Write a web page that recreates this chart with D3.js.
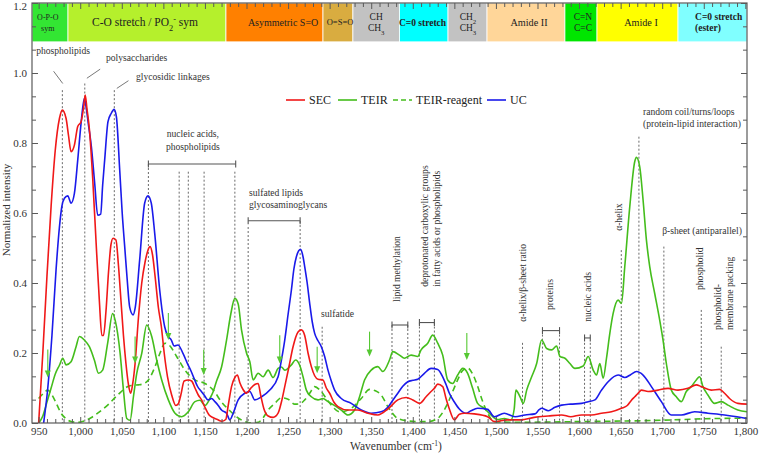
<!DOCTYPE html>
<html>
<head>
<meta charset="utf-8">
<script src="https://cdn.jsdelivr.net/npm/d3@7"></script>
<style>
  body { margin: 0; background: #fff; }
  svg, svg text { font-family: "Liberation Serif", "DejaVu Serif", "Times New Roman", serif; }
</style>
</head>
<body>
<div id="chart"></div>
<script>

// spectra: [wavenumber, normalized intensity]
const secData = [[950,0],[955,0.2],[960,0.42],[965,0.62],[970,0.78],[975,0.87],[978.5,0.894],[983,0.87],[986,0.82],[989,0.775],[991,0.78],[993,0.794],[997,0.847],[1001,0.861],[1004,0.9],[1006,0.937],[1008,0.9],[1011,0.84],[1015,0.7],[1019,0.52],[1023,0.35],[1026,0.25],[1028,0.25],[1031,0.32],[1034,0.43],[1037,0.51],[1039.5,0.528],[1043,0.523],[1046,0.45],[1049,0.35],[1052,0.25],[1055,0.17],[1058,0.11],[1060.7,0.085],[1063,0.11],[1066,0.17],[1070,0.3],[1074,0.4],[1078,0.46],[1081,0.49],[1084,0.504],[1087,0.48],[1090,0.42],[1094,0.33],[1097.6,0.275],[1101,0.2],[1105,0.132],[1110,0.08],[1115,0.05],[1118,0.055],[1121,0.08],[1125,0.12],[1130,0.123],[1134,0.12],[1138,0.1],[1142,0.08],[1146,0.066],[1150,0.045],[1155,0.023],[1160,0.015],[1165,0.01],[1170,0.005],[1175,0.01],[1178,0.05],[1182,0.104],[1186,0.13],[1189,0.137],[1192,0.115],[1196,0.095],[1200,0.085],[1205,0.099],[1210,0.11],[1214,0.113],[1217,0.08],[1221,0.04],[1226,0.02],[1232,0.016],[1238,0.028],[1242,0.06],[1246,0.104],[1251,0.16],[1256,0.218],[1262,0.26],[1266,0.266],[1270,0.25],[1274,0.2],[1278,0.161],[1282,0.135],[1286,0.125],[1292,0.123],[1296,0.1],[1300,0.085],[1305,0.06],[1310,0.047],[1322,0.037],[1334,0.037],[1346,0.028],[1358,0.023],[1370,0.04],[1382,0.066],[1392,0.073],[1400,0.066],[1408,0.056],[1416,0.075],[1422,0.09],[1426,0.099],[1430,0.111],[1436,0.104],[1440,0.07],[1444,0.04],[1450,0.009],[1456,0.025],[1462,0.028],[1474,0.026],[1490,0.018],[1498,0.004],[1514,0.009],[1530,0.009],[1546,0.016],[1563,0.02],[1579,0.023],[1590,0.018],[1603,0.023],[1615,0.023],[1627,0.028],[1639,0.032],[1651,0.042],[1658,0.05],[1663,0.065],[1667,0.075],[1671,0.085],[1675,0.094],[1683,0.09],[1695,0.094],[1707,0.099],[1719,0.094],[1731,0.099],[1741,0.109],[1747,0.104],[1759,0.094],[1769,0.096],[1775,0.085],[1781,0.07],[1791,0.056],[1802,0.054]];

const teirData = [[950,0],[955,0.02],[960,0.06],[965,0.1],[970,0.14],[975,0.165],[979,0.185],[983,0.166],[989,0.175],[995,0.218],[999,0.247],[1005,0.237],[1011,0.218],[1017,0.18],[1022,0.142],[1027,0.151],[1033,0.228],[1039,0.313],[1042,0.294],[1048,0.199],[1052,0.094],[1056,0.013],[1060,0.008],[1064,0.075],[1068,0.142],[1074,0.199],[1080,0.28],[1086,0.247],[1092,0.18],[1098,0.123],[1106,0.066],[1114,0.028],[1122,0.018],[1130,0.032],[1138,0.061],[1144,0.065],[1150,0.05],[1156,0.07],[1160,0.09],[1164,0.12],[1170,0.16],[1176,0.237],[1181,0.31],[1186,0.356],[1190,0.34],[1194,0.266],[1200,0.2],[1204,0.175],[1208,0.123],[1214,0.142],[1220,0.132],[1226,0.151],[1232,0.13],[1238,0.156],[1242,0.16],[1246,0.151],[1254,0.166],[1259,0.18],[1264,0.165],[1268,0.132],[1272,0.094],[1278,0.075],[1286,0.066],[1292,0.07],[1298,0.061],[1308,0.047],[1314,0.037],[1322,0.023],[1330,0.037],[1336,0.075],[1342,0.123],[1350,0.151],[1358,0.161],[1364,0.147],[1372,0.18],[1376,0.204],[1384,0.194],[1390,0.185],[1398,0.194],[1406,0.19],[1410,0.209],[1418,0.228],[1424,0.251],[1430,0.228],[1436,0.194],[1442,0.123],[1448,0.113],[1454,0.137],[1460,0.156],[1466,0.142],[1472,0.099],[1478,0.056],[1486,0.042],[1494,0.023],[1502,0.01],[1510,0.013],[1518,0.009],[1522,0.04],[1524,0.094],[1529,0.075],[1533,0.056],[1537,0.094],[1543,0.132],[1549,0.17],[1555,0.237],[1561,0.213],[1567,0.209],[1573,0.22],[1577,0.19],[1583,0.185],[1589,0.17],[1595,0.156],[1605,0.163],[1611,0.19],[1617,0.151],[1621,0.137],[1625,0.17],[1629,0.128],[1633,0.185],[1637,0.256],[1641,0.313],[1647,0.351],[1651,0.342],[1655,0.447],[1661,0.618],[1667,0.747],[1669,0.759],[1673,0.732],[1677,0.637],[1681,0.523],[1685,0.447],[1691,0.37],[1697,0.294],[1701,0.237],[1705,0.17],[1711,0.094],[1717,0.075],[1723,0.061],[1729,0.09],[1735,0.104],[1741,0.123],[1745,0.132],[1749,0.104],[1755,0.08],[1763,0.056],[1771,0.061],[1779,0.051],[1791,0.037],[1802,0.032]];

const reagentData = [[950,0.07],[956,0.085],[961,0.094],[966,0.08],[970,0.062],[974,0.042],[977,0.028],[983,0.012],[989,0.004],[997,0.002],[1005,0.006],[1013,0.015],[1021,0.028],[1033,0.051],[1045,0.08],[1058,0.105],[1064,0.108],[1070,0.109],[1076,0.112],[1082,0.123],[1090,0.161],[1096,0.2],[1102,0.228],[1108,0.22],[1116,0.19],[1126,0.151],[1138,0.123],[1150,0.113],[1160,0.094],[1170,0.06],[1180,0.035],[1188,0.018],[1196,0.006],[1205,0],[1214,0.002],[1220,0.015],[1226,0.037],[1234,0.056],[1242,0.072],[1250,0.068],[1258,0.054],[1264,0.055],[1270,0.066],[1276,0.085],[1282,0.104],[1288,0.095],[1296,0.07],[1302,0.051],[1312,0.032],[1320,0.035],[1326,0.042],[1338,0.07],[1348,0.096],[1355,0.092],[1362,0.08],[1370,0.047],[1382,0.013],[1394,0.006],[1405,0.004],[1418,0.004],[1430,0.013],[1436,0.03],[1442,0.056],[1448,0.09],[1454,0.123],[1460,0.15],[1466,0.157],[1472,0.14],[1478,0.105],[1484,0.062],[1490,0.028],[1498,0.004],[1520,0.002],[1600,0.004],[1700,0.008],[1750,0.012],[1802,0.014]];

const ucData = [[956,0],[961,0.1],[966,0.25],[971,0.44],[975,0.56],[978,0.62],[981,0.642],[985,0.649],[989,0.628],[993,0.656],[997,0.751],[1001,0.856],[1005,0.928],[1007,0.904],[1010,0.85],[1013.4,0.79],[1017.4,0.685],[1021,0.594],[1024.6,0.597],[1027,0.68],[1029.4,0.751],[1033.4,0.861],[1037.4,0.885],[1040.7,0.896],[1043.5,0.875],[1047.5,0.723],[1050.5,0.6],[1053.5,0.504],[1056.5,0.41],[1059.5,0.331],[1063.5,0.309],[1066.3,0.332],[1071.5,0.466],[1077.5,0.628],[1081.5,0.649],[1085.5,0.628],[1089.6,0.542],[1095.6,0.38],[1101.6,0.275],[1105,0.25],[1109.6,0.237],[1113,0.22],[1117.6,0.223],[1123.6,0.199],[1129.7,0.166],[1133,0.15],[1137.7,0.123],[1141,0.105],[1145.7,0.09],[1149,0.08],[1153.7,0.066],[1158,0.07],[1162,0.061],[1166,0.05],[1170,0.037],[1176,0.028],[1180,0.009],[1184,0.028],[1190,0.066],[1198,0.085],[1204,0.09],[1210,0.066],[1218,0.075],[1228,0.094],[1238,0.132],[1242,0.18],[1246,0.237],[1250,0.31],[1254,0.38],[1257,0.44],[1260,0.475],[1265,0.496],[1268,0.475],[1270,0.447],[1273,0.4],[1276,0.342],[1279,0.29],[1282,0.256],[1286,0.235],[1290,0.218],[1294,0.19],[1298,0.151],[1302,0.12],[1306,0.094],[1314,0.07],[1326,0.056],[1338,0.037],[1350,0.028],[1362,0.032],[1370,0.045],[1376,0.065],[1382,0.085],[1388,0.105],[1394,0.118],[1400,0.122],[1406,0.125],[1414,0.142],[1422,0.156],[1430,0.153],[1436,0.132],[1440,0.11],[1444,0.085],[1450,0.06],[1456,0.04],[1464,0.028],[1470,0.035],[1478,0.042],[1490,0.039],[1498,0.018],[1510,0.028],[1523,0.018],[1535,0.023],[1547,0.026],[1552,0.038],[1555,0.042],[1563,0.035],[1571,0.045],[1579,0.051],[1590,0.054],[1603,0.056],[1611,0.061],[1619,0.066],[1627,0.094],[1635,0.118],[1647,0.137],[1655,0.13],[1662,0.138],[1669,0.147],[1677,0.137],[1687,0.104],[1699,0.061],[1711,0.023],[1723,0.023],[1739,0.032],[1755,0.028],[1775,0.023],[1790,0.018],[1802,0.013]];

const seriesNames = ["SEC", "TEIR", "TEIR-reagent", "UC"];

// assignment band across the top (wavenumber edges)
const bandEdges = [942, 985.3, 1175.3, 1292, 1328, 1384, 1442.4, 1489.3, 1583, 1621.6, 1719, 1802];
const bandLabels = [
  ["O-P-O", "sym"], ["C-O stretch / PO_2^- sym"], ["Asymmetric S=O"], ["O=S=O"], ["CH", "CH_3"],
  ["C=0 stretch"], ["CH_2", "CH_3"], ["Amide II"], ["C=N", "C=C"], ["Amide I"], ["C=0 stretch", "(ester)"]
];
const bandLabelAt = [961, 1078, 1244, 1312.5, 1356, 1411.7, 1466.4, 1539.8, 1604.7, 1674.5, 1739.5];
const bandColors = ["#33e633", "#b5f02c", "#ff8000", "#d9ac40", "#c2c2c2", "#00ffff", "#c2c2c2", "#ffd699", "#00e600", "#ffff00", "#80ffff"];

// band assignment markers
const markerLines = [[978.5,0.951],[1005.5,0.97],[1041,0.951],[1082,0.74],[1119,0.718],[1130,0.718],[1149,0.718],[1186,0.718],[1202,0.56],[1264.5,0.577],[1291,0.275],[1375,0.28],[1394,0.28],[1408,0.287],[1426,0.287],[1532,0.229],[1556,0.264],[1576.5,0.264],[1606.6,0.229],[1613.5,0.229],[1650.8,0.494],[1672,0.818],[1702,0.504],[1747,0.323],[1771,0.218]];
const brackets = [[1082,1187,0.74],[1202,1264.5,0.578],[1375,1394,0.28],[1408,1426,0.287],[1556,1576.5,0.264],[1606.6,1613.5,0.243]];
const leaders = [[968,1.005,979,0.97],[1024,1.011,1008,0.985],[1058,0.978,1044,0.956]];
const flatNotes = [
  ["phospholipids", 947, 1.054, "start"], ["polysaccharides", 1031, 1.034, "start"],
  ["glycosidic linkages", 1067, 0.979, "start"],
  ["nucleic acids,", 1135.5, 0.817, "middle"], ["phospholipids", 1135.5, 0.78, "middle"],
  ["sulfated lipids", 1203, 0.65, "start"], ["glycosaminoglycans", 1203, 0.614, "start"],
  ["sulfatide", 1289.6, 0.303, "start"],
  ["random coil/turns/loops", 1677, 0.879, "start"], ["(protein-lipid interaction)", 1677, 0.847, "start"],
  ["β-sheet (antiparallel)", 1700, 0.54, "start"]
];
const uprightNotes = [
  ["lipid methylation", 1380.7, 0.346], ["deprotonated carboxylic groups", 1414.7, 0.389],
  ["in fatty acids or phospholipids", 1428.8, 0.389], ["α-helix/β-sheet ratio", 1532.6, 0.289],
  ["proteins", 1565, 0.323], ["nucleic acids", 1610.8, 0.289], ["α-helix", 1648, 0.549],
  ["phospholid", 1745, 0.38], ["phospholid-", 1767, 0.266], ["membrane packing", 1781.5, 0.266]
];
const arrows = [[961,0.21,0.13],[1066,0.247,0.17],[1106,0.314,0.237],[1148.5,0.209,0.137],[1240,0.251,0.17],[1285,0.218,0.142],[1348,0.261,0.19],[1465,0.257,0.18]];

drawChart();

function drawChart() {
  const width = 760, height = 453;
  const x = d3.scaleLinear().domain([942, 1802]).range([32, 747]);
  const y = d3.scaleLinear().domain([0, 1.2]).range([423, 3]);
  const bandBottom = 1.089;
  const axisColor = "#5a5a5a";
  const textColor = "#333";
  const serif = '"Liberation Serif", "DejaVu Serif", "Times New Roman", serif';

  const svg = d3.select("#chart").append("svg")
    .attr("width", width)
    .attr("height", height)
    .attr("font-family", serif);

  svg.append("clipPath").attr("id", "plot").append("rect")
    .attr("x", x.range()[0]).attr("y", y.range()[1])
    .attr("width", x.range()[1] - x.range()[0])
    .attr("height", y.range()[0] - y.range()[1]);

  // small markup: _x subscript, ^x superscript
  function rich(text, str) {
    let buf = "";
    const flush = () => { if (buf) { text.append("tspan").text(buf); buf = ""; } };
    for (let i = 0; i < str.length; i++) {
      const c = str[i];
      if ((c === "_" || c === "^") && i + 1 < str.length) {
        flush();
        text.append("tspan")
          .attr("baseline-shift", c === "_" ? "sub" : "super")
          .attr("font-size", "0.72em")
          .text(str[i + 1]);
        i++;
      } else buf += c;
    }
    flush();
  }

  // top band
  const band = svg.append("g");
  band.selectAll("rect")
    .data(bandColors)
    .join("rect")
    .attr("x", (d, i) => x(bandEdges[i]))
    .attr("width", (d, i) => x(bandEdges[i + 1]) - x(bandEdges[i]))
    .attr("y", y(1.2))
    .attr("height", y(bandBottom) - y(1.2))
    .attr("fill", d => d)
    .attr("stroke", "#fff")
    .attr("stroke-width", 0.8);

  const bandSizes = [8, 11.5, 10, 8.5, 9.5, 9.5, 9.5, 10.2, 9.5, 10.2, 9.5];
  const bandMid = (y(1.2) + y(bandBottom)) / 2;
  bandLabels.forEach((lines, i) => {
    const bold = lines[0].startsWith("C=0");
    const anchor = i === 10 ? "start" : "middle";
    lines.forEach((ln, j) => {
      const t = band.append("text")
        .attr("x", x(bandLabelAt[i]))
        .attr("y", bandMid + (lines.length > 1 ? (j === 0 ? -5.5 : 5.5) : 0))
        .attr("dy", "0.35em")
        .attr("text-anchor", anchor)
        .attr("font-size", bandSizes[i])
        .attr("font-weight", bold ? "bold" : null)
        .attr("fill", "#222");
      rich(t, ln);
    });
  });

  // spectra
  const line = d3.line().x(d => x(d[0])).y(d => y(d[1])).curve(d3.curveMonotoneX);
  const styles = {
    "SEC": { color: "#f01818", dash: null },
    "TEIR": { color: "#44bd1c", dash: null },
    "TEIR-reagent": { color: "#44bd1c", dash: "6,4" },
    "UC": { color: "#1a1aea", dash: null }
  };
  const dataByName = { "SEC": secData, "TEIR": teirData, "TEIR-reagent": reagentData, "UC": ucData };

  // assignment markers
  const notes = svg.append("g").attr("fill", textColor).attr("font-size", 9.6);
  notes.selectAll("line.mark")
    .data(markerLines)
    .join("line")
    .attr("class", "mark")
    .attr("x1", d => x(d[0])).attr("x2", d => x(d[0]))
    .attr("y1", d => y(d[1])).attr("y2", y(0))
    .attr("stroke", "#444")
    .attr("stroke-width", 0.8)
    .attr("stroke-dasharray", "2,2");

  const curves = svg.append("g").attr("clip-path", "url(#plot)").attr("fill", "none");
  ["TEIR-reagent", "TEIR", "UC", "SEC"].forEach(name => {
    curves.append("path")
      .attr("d", line(dataByName[name]))
      .attr("stroke", styles[name].color)
      .attr("stroke-width", 1.6)
      .attr("stroke-dasharray", styles[name].dash)
      .attr("stroke-linejoin", "round");
  });

  brackets.forEach(([a, b, v]) => {
    const g = notes.append("g").attr("stroke", "#555").attr("stroke-width", 1.1);
    g.append("line").attr("x1", x(a)).attr("x2", x(b)).attr("y1", y(v)).attr("y2", y(v));
    [a, b].forEach(w => g.append("line").attr("x1", x(w)).attr("x2", x(w)).attr("y1", y(v) - 3.5).attr("y2", y(v) + 3.5));
  });

  notes.selectAll("line.lead")
    .data(leaders)
    .join("line")
    .attr("class", "lead")
    .attr("x1", d => x(d[0])).attr("y1", d => y(d[1]))
    .attr("x2", d => x(d[2])).attr("y2", d => y(d[3]))
    .attr("stroke", "#555").attr("stroke-width", 0.8);

  notes.selectAll("text.flat")
    .data(flatNotes)
    .join("text")
    .attr("class", "flat")
    .attr("x", d => x(d[1])).attr("y", d => y(d[2]))
    .attr("text-anchor", d => d[3])
    .text(d => d[0]);

  notes.selectAll("text.up")
    .data(uprightNotes)
    .join("text")
    .attr("class", "up")
    .attr("transform", d => `translate(${x(d[1])},${y(d[2])}) rotate(-90)`)
    .attr("dy", "0.35em")
    .text(d => d[0]);

  // green arrows
  const arr = svg.append("g").attr("stroke", "#55c832").attr("fill", "#55c832");
  arrows.forEach(([w, v0, v1]) => {
    const xx = x(w), ya = y(v0), yb = y(v1);
    arr.append("line").attr("x1", xx).attr("x2", xx).attr("y1", ya).attr("y2", yb - 5).attr("stroke-width", 1.1);
    arr.append("path").attr("d", `M${xx - 3},${yb - 7}L${xx + 3},${yb - 7}L${xx},${yb}Z`).attr("stroke", "none");
  });

  // legend
  const legendX = [286, 338, 393, 487];
  const legend = svg.append("g").attr("font-size", 12).attr("fill", "#222");
  seriesNames.forEach((name, i) => {
    legend.append("line")
      .attr("x1", legendX[i]).attr("x2", legendX[i] + 19)
      .attr("y1", 100).attr("y2", 100)
      .attr("stroke", styles[name].color)
      .attr("stroke-width", 1.6)
      .attr("stroke-dasharray", styles[name].dash ? "5,3" : null);
    legend.append("text")
      .attr("x", legendX[i] + 23).attr("y", 100).attr("dy", "0.35em")
      .text(name);
  });

  // axes with inward ticks
  const majorX = d3.range(950, 1801, 50);
  const minorX = d3.range(950, 1801, 10).filter(v => v % 50 !== 0);
  const majorY = d3.range(0, 1.21, 0.2);
  const minorY = d3.range(0, 1.2, 0.2 / 3).filter((v, i) => i % 3 !== 0);

  const styleAxis = g => {
    g.attr("font-family", null).attr("font-size", 11);
    g.select(".domain").remove();
    g.selectAll("line").attr("stroke", axisColor).attr("stroke-width", 1);
    g.selectAll("text").attr("fill", textColor);
  };

  svg.append("g").attr("transform", `translate(0,${y(0)})`)
    .call(d3.axisBottom(x).tickValues(majorX).tickFormat(d3.format(",")).tickSize(-6).tickPadding(4))
    .call(styleAxis);
  svg.append("g").attr("transform", `translate(0,${y(0)})`)
    .call(d3.axisBottom(x).tickValues(minorX).tickFormat("").tickSize(-4))
    .call(styleAxis);
  svg.append("g").attr("transform", `translate(0,${y(1.2)})`)
    .call(d3.axisTop(x).tickValues(majorX).tickFormat("").tickSize(-6))
    .call(styleAxis);
  svg.append("g").attr("transform", `translate(0,${y(1.2)})`)
    .call(d3.axisTop(x).tickValues(minorX).tickFormat("").tickSize(-4))
    .call(styleAxis);
  const yAxis = svg.append("g").attr("transform", `translate(${x.range()[0]},0)`)
    .call(d3.axisLeft(y).tickValues(majorY).tickFormat(d3.format(".1f")).tickSize(-6).tickPadding(5))
    .call(styleAxis);
  yAxis.selectAll("text").filter(d => d > 1.1).attr("dy", "0.55em");
  svg.append("g").attr("transform", `translate(${x.range()[0]},0)`)
    .call(d3.axisLeft(y).tickValues(minorY).tickFormat("").tickSize(-4))
    .call(styleAxis);
  svg.append("g").attr("transform", `translate(${x.range()[1]},0)`)
    .call(d3.axisRight(y).tickValues(majorY).tickFormat("").tickSize(-6))
    .call(styleAxis);
  svg.append("g").attr("transform", `translate(${x.range()[1]},0)`)
    .call(d3.axisRight(y).tickValues(minorY).tickFormat("").tickSize(-4))
    .call(styleAxis);

  svg.append("rect")
    .attr("x", x.range()[0]).attr("y", y.range()[1])
    .attr("width", x.range()[1] - x.range()[0])
    .attr("height", y.range()[0] - y.range()[1])
    .attr("fill", "none")
    .attr("stroke", axisColor)
    .attr("stroke-width", 1.2);

  // axis titles
  const xt = svg.append("text")
    .attr("x", 396).attr("y", 449.5)
    .attr("text-anchor", "middle")
    .attr("font-size", 11.5)
    .attr("fill", textColor);
  xt.append("tspan").text("Wavenumber (cm");
  xt.append("tspan").attr("baseline-shift", "super").attr("font-size", 7.5).text("-1");
  xt.append("tspan").text(")");

  svg.append("text")
    .attr("transform", `translate(6,210) rotate(-90)`)
    .attr("text-anchor", "middle")
    .attr("dy", "0.35em")
    .attr("font-size", 11)
    .attr("fill", textColor)
    .text("Normalized intensity");
}
</script>
</body>
</html>
